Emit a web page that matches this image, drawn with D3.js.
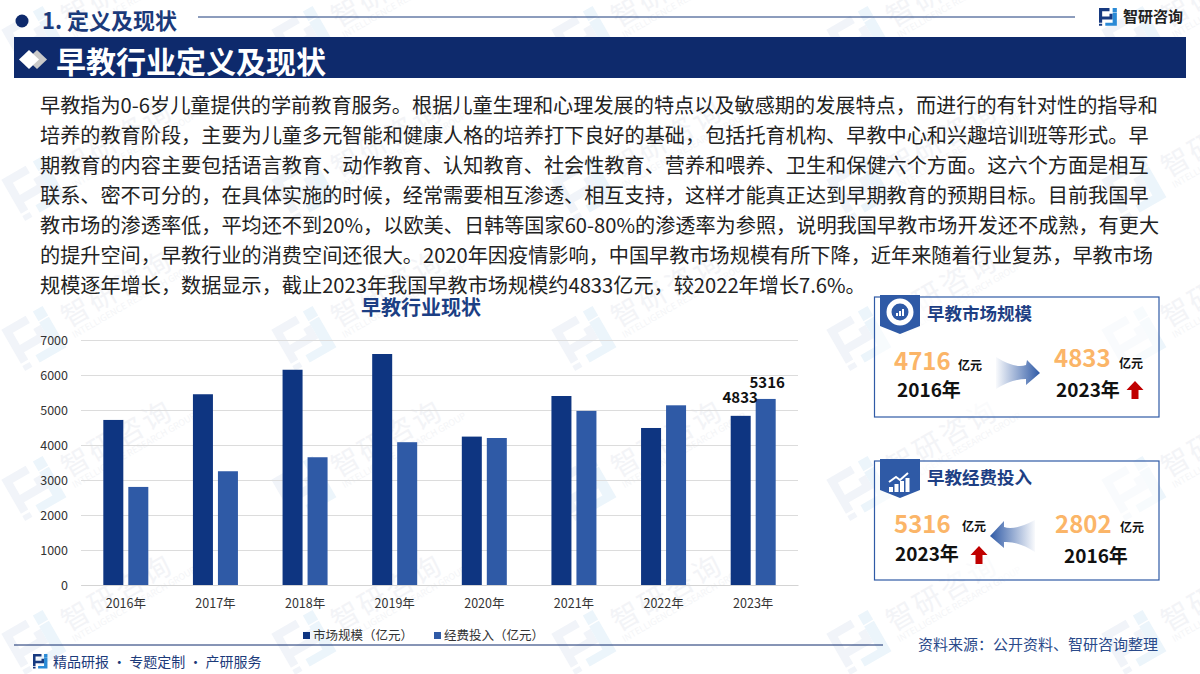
<!DOCTYPE html>
<html>
<head>
<meta charset="utf-8">
<script src="https://cdn.jsdelivr.net/npm/d3@7"></script>
<style>
  html, body { margin: 0; padding: 0; background: #fff; }
  svg { display: block; }
  text { font-family: "Noto Sans CJK SC", "Noto Sans", sans-serif; }
</style>
</head>
<body>
<svg id="page" width="1200" height="674"></svg>
<script>
// data
var years = ['2016年', '2017年', '2018年', '2019年', '2020年', '2021年', '2022年', '2023年'];
var marketSize = [4716, 5450, 6150, 6600, 4240, 5400, 4486, 4833];
var funding = [2802, 3250, 3650, 4080, 4200, 4975, 5134, 5316];
var yTicks = [0, 1000, 2000, 3000, 4000, 5000, 6000, 7000];
var seriesNames = ['市场规模（亿元）', '经费投入（亿元）'];
var seriesColours = ['#0e3581', '#2f5aa6'];

var paragraph = [
  '早教指为0-6岁儿童提供的学前教育服务。根据儿童生理和心理发展的特点以及敏感期的发展特点，而进行的有针对性的指导和',
  '培养的教育阶段，主要为儿童多元智能和健康人格的培养打下良好的基础，包括托育机构、早教中心和兴趣培训班等形式。早',
  '期教育的内容主要包括语言教育、动作教育、认知教育、社会性教育、营养和喂养、卫生和保健六个方面。这六个方面是相互',
  '联系、密不可分的，在具体实施的时候，经常需要相互渗透、相互支持，这样才能真正达到早期教育的预期目标。目前我国早',
  '教市场的渗透率低，平均还不到20%，以欧美、日韩等国家60-80%的渗透率为参照，说明我国早教市场开发还不成熟，有更大',
  '的提升空间，早教行业的消费空间还很大。2020年因疫情影响，中国早教市场规模有所下降，近年来随着行业复苏，早教市场',
  '规模逐年增长，数据显示，截止2023年我国早教市场规模约4833亿元，较2022年增长7.6%。'
];
var paragraphY = [113, 143, 173, 203, 233, 263, 293];

var svg = d3.select('#page');
var navy = '#0e2a6c';

// gradients for the two arrows
var defs = svg.append('defs');
var gradRight = defs.append('linearGradient').attr('id', 'arrowRight');
gradRight.append('stop').attr('offset', '0%').attr('stop-color', '#2f5aa6').attr('stop-opacity', 0.03);
gradRight.append('stop').attr('offset', '100%').attr('stop-color', '#2f5aa6');
var gradLeft = defs.append('linearGradient').attr('id', 'arrowLeft');
gradLeft.append('stop').attr('offset', '0%').attr('stop-color', '#2f5aa6');
gradLeft.append('stop').attr('offset', '100%').attr('stop-color', '#2f5aa6').attr('stop-opacity', 0.03);

var logoLeft = 'M0,0 H10 V3 H3 V8 H10 V5.5 H13 V11 H3 V14 H0 Z M0,15 H3 V17 H0 Z';
var logoRight = 'M13,0 H17 V4 H13 Z M13,4.5 H17 V17 H6 V14 H13 Z';

// watermark tiles
var wmRows = [38, 188, 338, 488, 642];
var wmCols = [35, 305, 585, 860, 1135];
var wm = svg.append('g').attr('class', 'watermark');
wmRows.forEach(function(ry) {
  wmCols.forEach(function(cx) {
    var t = wm.append('g').attr('transform', 'translate(' + cx + ',' + ry + ') rotate(-30)');
    t.append('path').attr('d', logoLeft).attr('fill', '#f1f4f9').attr('transform', 'translate(-25,-24) scale(2.8)');
    t.append('path').attr('d', logoRight).attr('fill', '#ecf5fb').attr('transform', 'translate(-25,-24) scale(2.8)');
    t.append('text').attr('x', 34).attr('y', 8).attr('font-size', 28).attr('letter-spacing', 3)
      .attr('fill', '#f3f4f7').text('智研咨询');
    t.append('text').attr('x', 34).attr('y', 20).attr('font-size', 9).attr('fill', '#f4f5f7')
      .text('INTELLIGENCE RESEARCH GROUP');
  });
});

// page header
svg.append('circle').attr('cx', 22).attr('cy', 21).attr('r', 6.5).attr('fill', navy);
svg.append('text').attr('x', 42).attr('y', 29).attr('font-size', 22).attr('font-weight', 700)
  .attr('fill', '#1b3a7a').text('1. 定义及现状');
svg.append('line').attr('x1', 198).attr('x2', 1075).attr('y1', 17).attr('y2', 17)
  .attr('stroke', '#1b3a7a').attr('stroke-width', 1);

// company logo
function logoMark(x, y, k) {
  var g = svg.append('g').attr('transform', 'translate(' + x + ',' + y + ') scale(' + k + ')');
  g.append('path').attr('d', logoLeft).attr('fill', '#173a80');
  g.append('path').attr('d', logoRight).attr('fill', '#2a8ad6');
}
logoMark(1099, 8, 1.05);
svg.append('text').attr('x', 1123).attr('y', 22).attr('font-size', 15).attr('font-weight', 700)
  .attr('fill', '#222').text('智研咨询');

// title bar
svg.append('rect').attr('x', 14).attr('y', 37).attr('width', 1172).attr('height', 41).attr('fill', navy);
svg.append('path').attr('d', 'M37,50 L47,59.5 L37,69 L27,59.5 Z').attr('fill', '#c9c9c9');
svg.append('path').attr('d', 'M29,50 L39,59.5 L29,69 L19,59.5 Z').attr('fill', '#fff');
svg.append('text').attr('x', 56).attr('y', 73).attr('font-size', 30).attr('font-weight', 700)
  .attr('fill', '#fff').text('早教行业定义及现状');

// body text
svg.append('g').selectAll('text').data(paragraph).enter().append('text')
  .attr('x', 40)
  .attr('y', function(d, i) { return paragraphY[i]; })
  .attr('font-size', 20.17)
  .attr('fill', '#222')
  .text(function(d) { return d; });

// chart
var plot = { left: 81, right: 798, top: 340, bottom: 585 };
var x = d3.scaleBand().domain(years).range([plot.left, plot.right]);
var y = d3.scaleLinear().domain([0, 7000]).range([plot.bottom, plot.top]);
var barWidth = 20, barGap = 5;

svg.append('text').attr('x', 421).attr('y', 315).attr('text-anchor', 'middle')
  .attr('font-size', 20).attr('font-weight', 700).attr('fill', '#1c3f84').text('早教行业现状');

var yAxis = svg.append('g').attr('transform', 'translate(' + plot.left + ',0)')
  .call(d3.axisLeft(y).tickValues(yTicks).tickSize(-(plot.right - plot.left)).tickPadding(13).tickFormat(d3.format('d')));
yAxis.select('.domain').remove();
yAxis.selectAll('line').attr('stroke', '#dcdcdc');
yAxis.selectAll('text').attr('font-size', 12.5).attr('fill', '#333');

var xAxis = svg.append('g').attr('transform', 'translate(0,' + plot.bottom + ')')
  .call(d3.axisBottom(x).tickSize(0).tickPadding(14));
xAxis.select('.domain').attr('stroke', '#d4d4d4');
xAxis.selectAll('text').attr('font-size', 12.5).attr('fill', '#333');

[marketSize, funding].forEach(function(series, s) {
  svg.append('g').selectAll('rect').data(series).enter().append('rect')
    .attr('x', function(d, i) {
      var mid = x(years[i]) + x.bandwidth() / 2;
      return s === 0 ? mid - barGap / 2 - barWidth : mid + barGap / 2;
    })
    .attr('y', function(d) { return y(d); })
    .attr('width', barWidth)
    .attr('height', function(d) { return y(0) - y(d); })
    .attr('fill', seriesColours[s]);
});

// only the last year carries labels
var lastMid = x(years[7]) + x.bandwidth() / 2;
svg.append('text').attr('x', lastMid - 13).attr('y', y(marketSize[7]) - 13).attr('text-anchor', 'middle')
  .attr('font-size', 15).attr('font-weight', 700).attr('fill', '#111').text(marketSize[7]);
svg.append('text').attr('x', lastMid + 14).attr('y', y(funding[7]) - 11).attr('text-anchor', 'middle')
  .attr('font-size', 15).attr('font-weight', 700).attr('fill', '#111').text(funding[7]);

// legend
var legendX = [303, 434];
seriesNames.forEach(function(name, i) {
  svg.append('rect').attr('x', legendX[i]).attr('y', 632).attr('width', 7).attr('height', 7).attr('fill', seriesColours[i]);
  svg.append('text').attr('x', legendX[i] + 10).attr('y', 640).attr('font-size', 12.5).attr('fill', '#333').text(name);
});

// side cards
function upArrow(cx, cy) {
  svg.append('path')
    .attr('transform', 'translate(' + cx + ',' + cy + ')')
    .attr('d', 'M0,-9 L8.5,0 L3.5,0 L3.5,9 L-3.5,9 L-3.5,0 L-8.5,0 Z')
    .attr('fill', '#c00000');
}
function card(o) {
  svg.append('rect').attr('x', 874.5).attr('y', o.y).attr('width', 284.5).attr('height', o.h)
    .attr('fill', '#fff').attr('fill-opacity', 0.6).attr('stroke', '#2f5aa6').attr('stroke-width', 1.2);
  svg.append('path')
    .attr('d', 'M880,' + (o.y - 2) + ' h40 v31 l-20,8 l-20,-8 Z')
    .attr('fill', '#2f5aa6');
  svg.append('text').attr('x', 927).attr('y', o.y + 23).attr('font-size', 17.5).attr('font-weight', 700)
    .attr('fill', '#1e3f84').text(o.title);
  o.nums.forEach(function(n) {
    svg.append('text').attr('x', n.x).attr('y', n.y).attr('font-size', 24).attr('font-weight', 700)
      .attr('fill', '#fbb568').text(n.v);
    svg.append('text').attr('x', n.ux).attr('y', n.uy).attr('font-size', 12).attr('font-weight', 700)
      .attr('fill', '#111').text('亿元');
    svg.append('text').attr('x', n.yx).attr('y', n.yy).attr('font-size', 19).attr('font-weight', 700)
      .attr('fill', '#111').text(n.year);
  });
}

card({ y: 297, h: 120, title: '早教市场规模', nums: [
  { v: marketSize[0], x: 894, y: 370, ux: 958, uy: 370, year: '2016年', yx: 897, yy: 397 },
  { v: marketSize[7], x: 1054, y: 367, ux: 1119, uy: 368, year: '2023年', yx: 1056, yy: 397 }
] });
card({ y: 461, h: 119, title: '早教经费投入', nums: [
  { v: funding[7], x: 894, y: 533, ux: 962, uy: 531, year: '2023年', yx: 895, yy: 561 },
  { v: funding[0], x: 1055, y: 533, ux: 1120, uy: 532, year: '2016年', yx: 1064, yy: 563 }
] });

upArrow(1135, 390);
upArrow(979, 555);

svg.append('path').attr('d', 'M996,357 Q1015,369 1026,365 L1027,360 L1040,373 L1026,385 L1026,379 Q1012,379 996,389 Z')
  .attr('fill', 'url(#arrowRight)');
svg.append('path').attr('d', 'M1035,520 Q1014,531 1004,527 L1004,521 L990,536 L1004,548 L1004,542 Q1018,541 1035,552 Z')
  .attr('fill', 'url(#arrowLeft)');

// card badge icons
var icon1 = svg.append('g').attr('transform', 'translate(900,312)');
icon1.append('circle').attr('r', 11).attr('fill', 'none').attr('stroke', '#fff').attr('stroke-width', 5);
icon1.selectAll('rect').data([3, 5, 7]).enter().append('rect')
  .attr('x', function(d, i) { return -4 + i * 3; }).attr('y', function(d) { return 4 - d; })
  .attr('width', 2).attr('height', function(d) { return d; }).attr('fill', '#fff');
var icon2 = svg.append('g').attr('transform', 'translate(889,473)');
icon2.selectAll('rect').data([5, 8, 11, 14]).enter().append('rect')
  .attr('x', function(d, i) { return i * 5.5; }).attr('y', function(d) { return 19 - d; })
  .attr('width', 4).attr('height', function(d) { return d; }).attr('fill', '#fff');
icon2.append('path').attr('d', 'M0,9 L7,4 L11,7 L19,0').attr('fill', 'none').attr('stroke', '#fff').attr('stroke-width', 2);

// footer
svg.append('line').attr('x1', 14).attr('x2', 883).attr('y1', 645).attr('y2', 645)
  .attr('stroke', navy).attr('stroke-width', 1);
logoMark(33, 654, 0.85);
svg.append('text').attr('x', 53).attr('y', 667).attr('font-size', 14).attr('fill', '#1b3a7a')
  .text('精品研报 · 专题定制 · 产研服务');
svg.append('text').attr('x', 918).attr('y', 650).attr('font-size', 15).attr('fill', '#2a4a8a')
  .text('资料来源：公开资料、智研咨询整理');
</script>
</body>
</html>
